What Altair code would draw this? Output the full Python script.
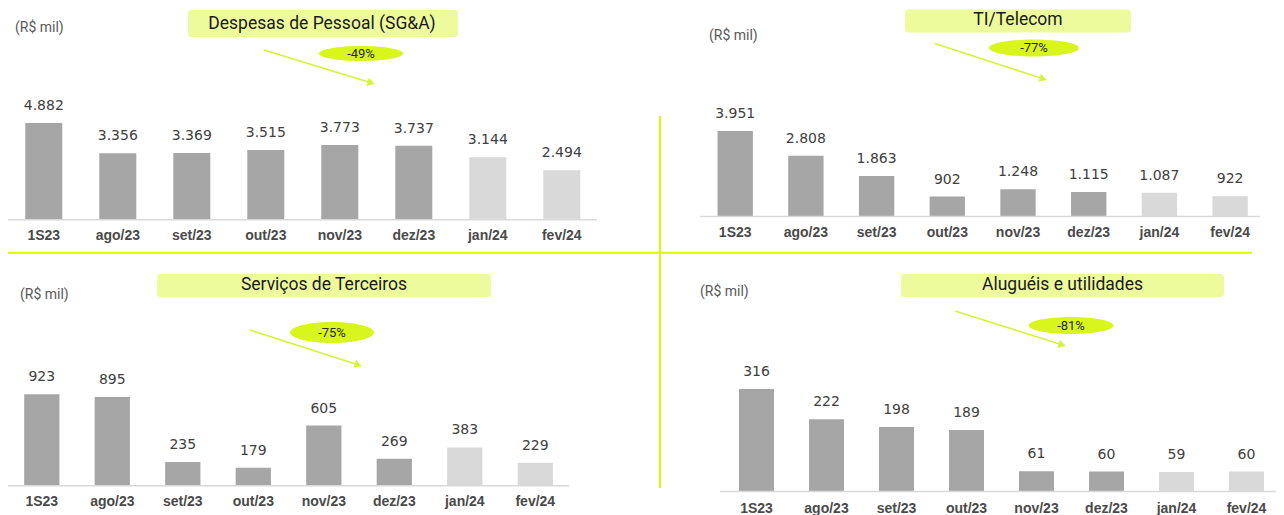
import math
import altair as alt
import pandas as pd

# ---------------- data ----------------
cats = ["1S23", "ago/23", "set/23", "out/23", "nov/23", "dez/23", "jan/24", "fev/24"]
tipo = ["real"] * 6 + ["proj"] * 2

pessoal = [4882, 3356, 3369, 3515, 3773, 3737, 3144, 2494]
ti_telecom = [3951, 2808, 1863, 902, 1248, 1115, 1087, 922]
servicos = [923, 895, 235, 179, 605, 269, 383, 229]
alugueis = [316, 222, 198, 189, 61, 60, 59, 60]

titles = ["Despesas de Pessoal (SG&A)", "TI/Telecom", "Serviços de Terceiros", "Aluguéis e utilidades"]
variations = ["-49%", "-77%", "-75%", "-81%"]
unit_label = "(R$ mil)"

# ---------------- style ----------------
DARK_BAR = "#a6a6a6"
LIGHT_BAR = "#d9d9d9"
TITLE_BOX = "#eefb9d"
BADGE = "#d8f51c"
ARROW = "#d4f43a"
DIVIDER = "#dcf60a"
OFF = 8  # page margin


def p(v):
    return v - OFF


one = pd.DataFrame({"z": [0]})


def fmt(v):
    return f"{v:,}".replace(",", ".")


def panel(values, first_c, step, base, k, dmax, label_y, axis_x0, axis_x1):
    df = pd.DataFrame({"cat": cats, "val": values, "lbl": [fmt(v) for v in values], "tipo": tipo})
    r0 = first_c - step / 2
    r1 = first_c + step * 7 + step / 2
    x = alt.X("cat:N", sort=cats, axis=None,
              scale=alt.Scale(range=[p(r0), p(r1)], paddingInner=0.5, paddingOuter=0.25))
    y = alt.Y("val:Q", axis=None,
              scale=alt.Scale(domain=[0, dmax], range=[p(base), p(base - k * dmax)], nice=False, zero=True))
    bars = alt.Chart(df).mark_bar().encode(
        x=x, y=y,
        color=alt.Color("tipo:N", legend=None,
                        scale=alt.Scale(domain=["real", "proj"], range=[DARK_BAR, LIGHT_BAR])),
    )
    vals = alt.Chart(df).mark_text(dy=-17, baseline="middle", font="DejaVu Sans", fontSize=14,
                                   color="#404040").encode(x=x, y=y, text="lbl:N")
    xl = alt.Chart(df).mark_text(baseline="middle", font="Liberation Sans", fontSize=14,
                                 fontWeight="bold", color="#4a4a4a").encode(
        x=x, y=alt.value(p(label_y)), text="cat:N")
    axl = alt.Chart(one).mark_rule(color="#d9d9d9", strokeWidth=1.5).encode(
        x=alt.value(p(axis_x0)), x2=alt.value(p(axis_x1)), y=alt.value(p(base) + 0.5))
    return alt.layer(bars, axl, vals, xl)


def annot(title, box, tcenter, unit_pos, badge_c, badge_w, badge_h, pct, a0, a1):
    layers = []
    # title box
    layers.append(alt.Chart(one).mark_rect(fill=TITLE_BOX, cornerRadius=3).encode(
        x=alt.value(p(box[0])), x2=alt.value(p(box[1])), y=alt.value(p(box[2])), y2=alt.value(p(box[3]))))
    layers.append(alt.Chart(one).mark_text(text=title, font="Roboto", fontSize=17.5, color="#1a1a1a",
                                           baseline="middle", align="center").encode(
        x=alt.value(p(tcenter[0])), y=alt.value(p(tcenter[1]))))
    # unit label
    layers.append(alt.Chart(one).mark_text(text=unit_label, font="Roboto", fontSize=14, color="#595959",
                                           baseline="middle", align="left").encode(
        x=alt.value(p(unit_pos[0])), y=alt.value(p(unit_pos[1]))))
    # arrow
    dx, dy = a1[0] - a0[0], a1[1] - a0[1]
    L = math.hypot(dx, dy)
    ang = math.degrees(math.atan2(dy, dx))
    hx, hy = a1[0] - dx / L * 4, a1[1] - dy / L * 4
    lx, ly = a1[0] - dx / L * 6, a1[1] - dy / L * 6
    layers.append(alt.Chart(one).mark_rule(color=ARROW, strokeWidth=1.6).encode(
        x=alt.value(p(a0[0])), y=alt.value(p(a0[1])), x2=alt.value(p(lx)), y2=alt.value(p(ly))))
    layers.append(alt.Chart(one).mark_point(shape="triangle-right", angle=ang, size=70, filled=True,
                                            color=ARROW, opacity=1).encode(
        x=alt.value(p(hx)), y=alt.value(p(hy))))
    # badge
    ratio = badge_h / badge_w
    ellipse = f"M-1,0A1,{ratio:.4f} 0 1,1 1,0A1,{ratio:.4f} 0 1,1 -1,0Z"
    layers.append(alt.Chart(one).mark_point(shape=ellipse, size=badge_w ** 2, filled=True,
                                            color=BADGE, opacity=1).encode(
        x=alt.value(p(badge_c[0])), y=alt.value(p(badge_c[1]))))
    layers.append(alt.Chart(one).mark_text(text=pct, font="Roboto", fontSize=13, color="#2a2a2a",
                                           baseline="middle", align="center").encode(
        x=alt.value(p(badge_c[0])), y=alt.value(p(badge_c[1]))))
    return layers


p1 = panel(pessoal, 43.8, 74.0, 219.3, 0.0197, 5000, 235.7, 7, 597)
p2 = panel(ti_telecom, 735.2, 70.7, 216.0, 0.0215, 4000, 232.7, 700, 1260)
p3 = panel(servicos, 41.8, 70.5, 485.3, 0.0987, 1000, 502.3, 6, 569)
p4 = panel(alugueis, 756.5, 70.0, 491.0, 0.323, 350, 508.7, 720, 1284)

a = []
a += annot(titles[0], (188, 458, 10, 37), (322, 23.5), (15, 27.5), (361, 53.5), 84, 15, variations[0],
           (264, 50), (375, 84))
a += annot(titles[1], (905, 1131, 9.5, 32.5), (1018, 20), (709, 36), (1034, 48), 90, 17, variations[1],
           (935, 43.5), (1047, 80))
a += annot(titles[2], (157, 491, 274, 297), (324, 285), (20, 295), (332, 332.5), 84, 21, variations[2],
           (250, 330), (362, 366))
a += annot(titles[3], (901, 1224, 274, 297), (1062.5, 284.5), (700, 292), (1071, 325.5), 85, 17, variations[3],
           (955, 311), (1066, 346))

# green dividers
a.append(alt.Chart(one).mark_rule(color=DIVIDER, strokeWidth=2).encode(
    x=alt.value(p(8)), x2=alt.value(p(1252)), y=alt.value(p(252.7))))
a.append(alt.Chart(one).mark_rule(color=DIVIDER, strokeWidth=2).encode(
    x=alt.value(p(660)), y=alt.value(p(116)), y2=alt.value(p(488))))

chart = alt.layer(p1, p2, p3, p4, *a).resolve_scale(
    x="independent", y="independent", color="independent"
).properties(
    width=1268, height=507, padding=0, autosize=alt.AutoSizeParams(type="none")
).configure_view(stroke=None)

chart.save("out.html", embed_options={"renderer": "svg", "actions": False})
